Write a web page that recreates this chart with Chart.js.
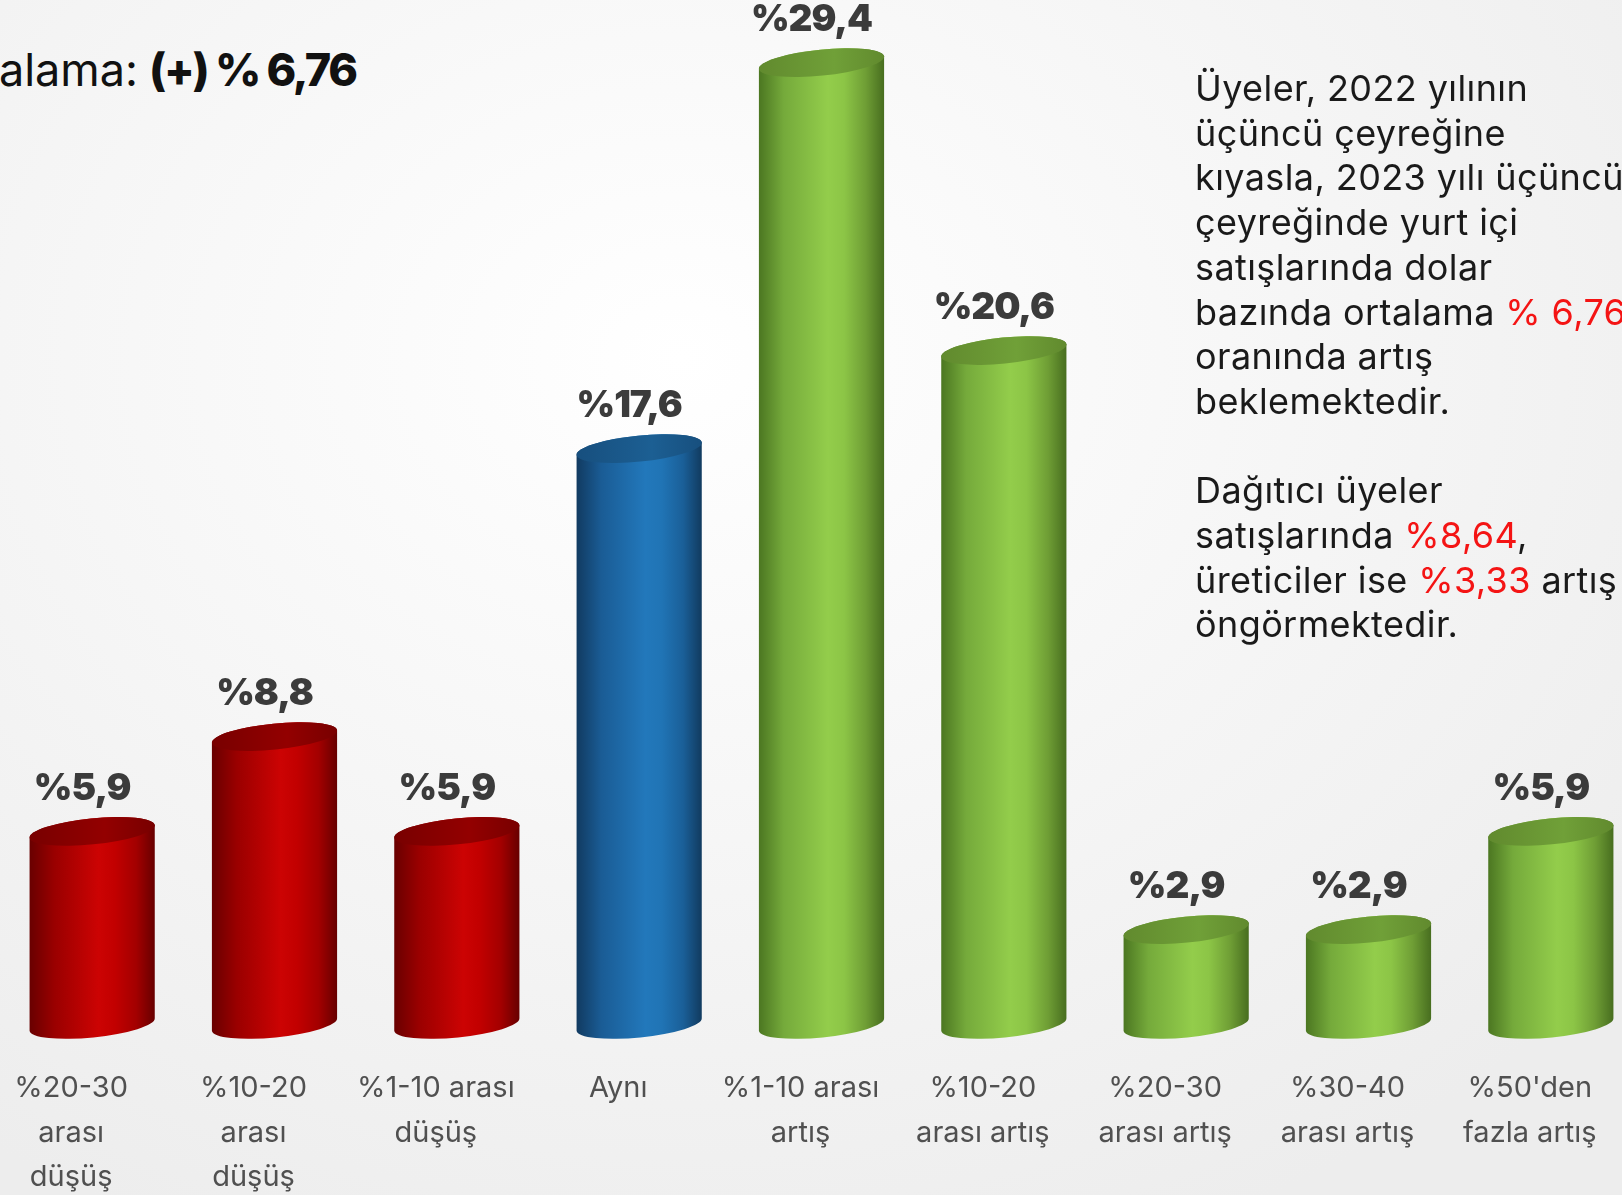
<!DOCTYPE html>
<html lang="tr">
<head>
<meta charset="utf-8">
<script src="https://cdn.jsdelivr.net/npm/chart.js@4.4.1/dist/chart.umd.min.js"></script>
<style>
  html, body { margin: 0; padding: 0; width: 1622px; height: 1195px; overflow: hidden; }
  body {
    position: relative;
    font-family: Inter, "Noto Sans", sans-serif;
    background: radial-gradient(ellipse 75% 80% at 42% 30%, #ffffff 0%, #f7f7f7 45%, #ededed 100%);
  }
  #chart { position: absolute; left: 1px; top: 0; }
  .title { position: absolute; top: 43px; font-size: 45px; line-height: 54px; color: #111; white-space: nowrap; }
  .title.lead { right: 1484px; font-weight: 400; }
  .title.val { left: 149px; font-weight: 800; letter-spacing: -2.3px; }
  .note {
    position: absolute; left: 1195px; top: 66px; font-size: 36px; line-height: 44.7px;
    color: #1a1a1a; white-space: nowrap; font-weight: 400; letter-spacing: 0.4px;
  }
  .note .hl { color: #f41414; }
</style>
</head>
<body>
<div class="title lead">Ortalama:</div>
<div class="title val">(+) % 6,76</div>
<canvas id="chart" width="1641" height="1200"></canvas>
<div class="note">
  Üyeler, 2022 yılının<br>
  üçüncü çeyreğine<br>
  kıyasla, 2023 yılı üçüncü<br>
  çeyreğinde yurt içi<br>
  satışlarında dolar<br>
  bazında ortalama <span class="hl">% 6,76</span><br>
  oranında artış<br>
  beklemektedir.<br>
  <br>
  Dağıtıcı üyeler<br>
  satışlarında <span class="hl">%8,64</span>,<br>
  üreticiler ise <span class="hl">%3,33</span> artış<br>
  öngörmektedir.
</div>
<script>
/* beklenti dağılımı — silindir çubuklar */
const categories = [
  ["%20-30", "arası", "düşüş"],
  ["%10-20", "arası", "düşüş"],
  ["%1-10 arası", "düşüş"],
  "Aynı",
  ["%1-10 arası", "artış"],
  ["%10-20", "arası artış"],
  ["%20-30", "arası artış"],
  ["%30-40", "arası artış"],
  ["%50'den", "fazla artış"],
];
const shares = [5.9, 8.8, 5.9, 17.6, 29.4, 20.6, 2.9, 2.9, 5.9];
const kinds  = ["down", "down", "down", "same", "up", "up", "up", "up", "up"];

// silindir renkleri: gövde gradyanı + üst yüz
const palette = {
  down: { stops: ["#680000", "#9a0000", "#cc0303", "#c20000", "#a30000", "#660000"], top: ["#780000", "#930000"] },
  same: { stops: ["#113a60", "#1a5c95", "#2278bb", "#2074b5", "#1a5f98", "#113a5e"], top: ["#174f7e", "#1c5f93"] },
  up:   { stops: ["#4b7621", "#75aa3b", "#93cd4b", "#8cc546", "#6f9e35", "#476d1f"], top: ["#618a2e", "#70a038"] },
};
const stopPos = [0, 0.2, 0.55, 0.68, 0.85, 1];
const TILT = -0.1, RY = 13;

const cylinders = {
  id: "cylinders",
  afterDatasetsDraw(chart) {
    const ctx = chart.ctx;
    const meta = chart.getDatasetMeta(0);
    meta.data.forEach((bar, i) => {
      const p = palette[kinds[i]];
      const a = bar.width / 2, cx = bar.x, yt = bar.y, yb = bar.base;
      ctx.save();
      // gövde
      const g = ctx.createLinearGradient(cx - a, 0, cx + a, 0);
      p.stops.forEach((c, k) => g.addColorStop(stopPos[k], c));
      ctx.beginPath();
      ctx.ellipse(cx, yt, a, RY, TILT, Math.PI, Math.PI * 2);
      ctx.ellipse(cx, yb, a, RY, TILT, 0, Math.PI);
      ctx.closePath();
      ctx.fillStyle = g;
      ctx.fill();
      // üst yüz
      const t = ctx.createLinearGradient(cx - a, yt, cx + a, yt);
      t.addColorStop(0, p.top[0]); t.addColorStop(0.6, p.top[1]); t.addColorStop(1, p.top[0]);
      ctx.beginPath();
      ctx.ellipse(cx, yt, a, RY, TILT, 0, Math.PI * 2);
      ctx.fillStyle = t;
      ctx.fill();
      ctx.restore();
    });
  },
};

const valueLabels = {
  id: "valueLabels",
  afterDatasetsDraw(chart) {
    const ctx = chart.ctx;
    const meta = chart.getDatasetMeta(0);
    ctx.save();
    ctx.font = "900 37px Inter, 'Noto Sans', sans-serif";
    ctx.fillStyle = "#3b3b3b";
    ctx.textAlign = "center";
    ctx.textBaseline = "middle";
    if ("letterSpacing" in ctx) ctx.letterSpacing = "-1px";
    meta.data.forEach((bar, i) => {
      ctx.fillText("%" + shares[i].toString().replace(".", ","), bar.x - 10, bar.y - 43);
    });
    ctx.restore();
  },
};

new Chart(document.getElementById("chart"), {
  type: "bar",
  data: {
    labels: categories,
    datasets: [{
      data: shares,
      backgroundColor: "rgba(0,0,0,0)",
      borderWidth: 0,
      barPercentage: 0.69,
      categoryPercentage: 1,
    }],
  },
  options: {
    responsive: false, animation: false,
    layout: { padding: { top: 43, left: 0, right: 0, bottom: 0 } },
    plugins: { legend: { display: false }, tooltip: { enabled: false } },
    scales: {
      y: { display: false, min: 0, max: 30 },
      x: {
        // tick çizgisi çizilmez, yalnızca etiketleri aşağı itmek için uzunluk
        grid: { display: false, drawTicks: true, tickLength: 42 }, border: { display: false },
        ticks: {
          color: "#505050", padding: 0, labelOffset: -21, maxRotation: 0, autoSkip: false,
          font: { family: "Inter, 'Noto Sans', sans-serif", size: 29, weight: "400", lineHeight: 1.535 },
        },
      },
    },
  },
  plugins: [cylinders, valueLabels],
});
</script>
</body>
</html>
